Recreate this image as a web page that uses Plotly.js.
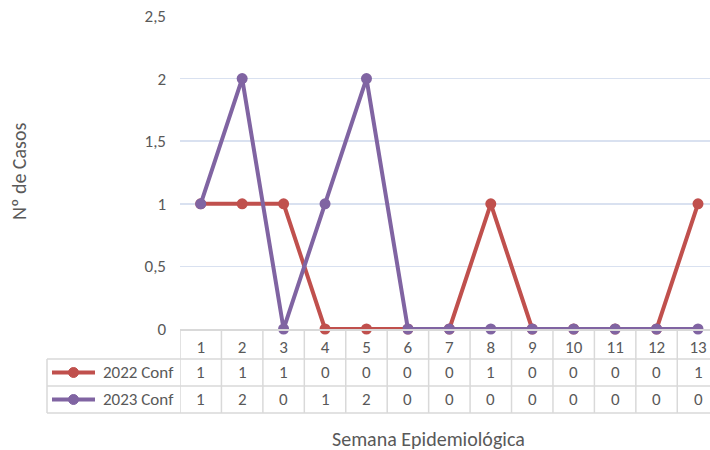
<!DOCTYPE html>
<html><head><meta charset="utf-8">
<script src="https://cdn.plot.ly/plotly-3.0.1.min.js"></script>
<style>html,body{margin:0;padding:0;background:#fff;overflow:hidden}</style>
</head><body><div id="chart" style="width:710px;height:450px"></div>
<script>
const weeks = [1,2,3,4,5,6,7,8,9,10,11,12,13];
const seriesNames = ['2022 Conf', '2023 Conf'];
const conf2022 = [1,1,1,0,0,0,0,1,0,0,0,0,1];
const conf2023 = [1,2,0,1,2,0,0,0,0,0,0,0,0];
const seriesValues = [conf2022, conf2023];
const seriesColors = ['#C0504D', '#8064A2'];

const FONT = 'Carlito, Lato, "Open Sans", sans-serif';
const FS = 17;      // ticks, table
const FT = 20;      // axis titles
const TXT = '#595959';
const GRID = '#D9D9D9';

// plot pixel geometry helpers (plot area: x 180..710, y 16..329)
const L = 180, R = 710, T = 16, B = 329;
const pxX = px => (px - L) / (R - L);
const pxY = py => (B - py) / (B - T);

const traces = seriesValues.map((vals, i) => ({
  type: 'scatter', mode: 'lines+markers', name: seriesNames[i],
  x: weeks, y: vals,
  line: {color: seriesColors[i], width: 4},
  marker: {color: seriesColors[i], size: 11},
  cliponaxis: false, showlegend: false
}));

const shapes = [];
const annotations = [];
[359, 386, 413].forEach(py => shapes.push({type:'line', xref:'paper', yref:'paper',
  x0: pxX(47), x1: 1.05, y0: pxY(py), y1: pxY(py), line:{color:GRID, width:1.5}}));
shapes.push({type:'line', xref:'paper', yref:'paper', x0:pxX(47), x1:pxX(47), y0:pxY(359), y1:pxY(413), line:{color:GRID, width:1.5}});
[0.5].concat(weeks.map(w => w + 0.5)).forEach(xv => shapes.push({type:'line', xref:'x', yref:'paper',
  x0: xv, x1: xv, y0: pxY(329), y1: pxY(413), line:{color:GRID, width:1.5}}));

const rowY = [372.5, 399.5];
seriesValues.forEach((vals, i) => {
  shapes.push({type:'line', xref:'paper', yref:'paper', x0:pxX(52), x1:pxX(95), y0:pxY(rowY[i]), y1:pxY(rowY[i]),
    line:{color:seriesColors[i], width:4}});
  shapes.push({type:'circle', xref:'paper', yref:'paper', x0:pxX(68.5), x1:pxX(78.5), y0:pxY(rowY[i]-5), y1:pxY(rowY[i]+5),
    fillcolor:seriesColors[i], line:{color:seriesColors[i], width:1}});
  annotations.push({xref:'paper', yref:'paper', x:pxX(101), y:pxY(rowY[i]), xanchor:'left', yanchor:'middle',
    text: seriesNames[i], showarrow:false, font:{family:FONT, size:FS, color:TXT}});
  vals.forEach((v, k) => annotations.push({xref:'x', yref:'paper', x: weeks[k], y: pxY(rowY[i]),
    xanchor:'center', yanchor:'middle', text: String(v), showarrow:false, font:{family:FONT, size:FS, color:TXT}}));
});

annotations.push({xref:'paper', yref:'paper', x:pxX(428), y:pxY(439), xanchor:'center', yanchor:'middle',
  text:'Semana Epidemiológica', showarrow:false, font:{family:FONT, size:FT, color:TXT}});
annotations.push({xref:'paper', yref:'paper', x:pxX(19), y:pxY(172), xanchor:'center', yanchor:'middle', textangle:-90,
  text:'Nº de Casos', showarrow:false, font:{family:FONT, size:FT, color:TXT}});

const layout = {
  width: 710, height: 450,
  margin: {l: L, r: 0, t: T, b: 450 - B},
  paper_bgcolor: '#fff', plot_bgcolor: '#fff',
  separators: ',.',
  showlegend: false,
  font: {family: FONT, size: FS, color: TXT},
  xaxis: {range: [0.5, 13 + (R - 698) / ((R - L) / 12.79)], tickvals: weeks, ticktext: weeks.map(String),
    showgrid: false, zeroline: false, showline: true, linecolor: GRID, linewidth: 1.5,
    ticks: '', ticklabelstandoff: 2, tickfont: {family: FONT, size: FS, color: TXT}, fixedrange: true},
  yaxis: {range: [0, 2.5], dtick: 0.5, tick0: 0, showgrid: true, gridcolor: '#D9E1F0', gridwidth: 1.5,
    zeroline: false, showline: false, ticks: '', ticklabelstandoff: 13,
    tickfont: {family: FONT, size: FS, color: TXT}, fixedrange: true},
  shapes: shapes,
  annotations: annotations
};

Plotly.newPlot('chart', traces, layout, {displayModeBar: false, staticPlot: true});
</script>
</body></html>
